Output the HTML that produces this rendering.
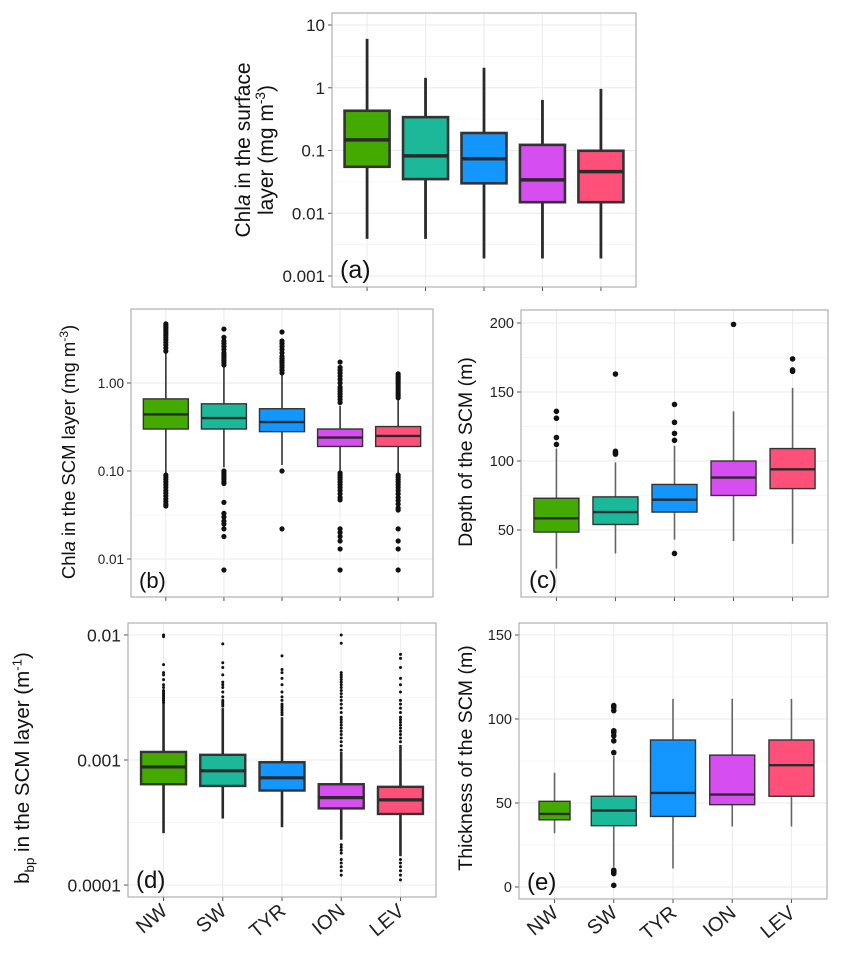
<!DOCTYPE html>
<html><head><meta charset="utf-8"><style>
html,body{margin:0;padding:0;background:#fff}
svg{display:block;font-family:"Liberation Sans",Arial,sans-serif}
</style></head><body>
<svg id="fig" width="841" height="954" viewBox="0 0 841 954" xmlns="http://www.w3.org/2000/svg"></svg>
<script>
const categories = ["NW","SW","TYR","ION","LEV"];
const colors = ["#44AA00","#1BB899","#1496FF","#D64DF0","#FF507A"];

// Panel a: Chla surface
const aLow = [0.0039,0.0039,0.0019,0.0019,0.0019];
const aQ1  = [0.055,0.035,0.030,0.015,0.015];
const aMed = [0.148,0.082,0.074,0.034,0.046];
const aQ3  = [0.43,0.34,0.19,0.123,0.099];
const aHigh= [6.0,1.44,2.08,0.64,0.96];
const aTicks = [10,1,0.1,0.01,0.001];
const aTickLabels = ["10","1","0.1","0.01","0.001"];

// Panel b: Chla SCM
const bLow = [0.095,0.11,0.117,0.10,0.095];
const bQ1  = [0.30,0.30,0.28,0.19,0.19];
const bMed = [0.44,0.40,0.36,0.24,0.25];
const bQ3  = [0.66,0.58,0.51,0.30,0.32];
const bHigh= [2.19,1.52,1.23,0.55,0.64];
const bOutNW = [2.3,2.5,2.7,2.9,3.1,3.3,3.5,3.7,3.9,4.1,4.3,4.5,4.7,0.09,0.085,0.08,0.075,0.07,0.065,0.06,0.056,0.052,0.048,0.045,0.042,0.04];
const bOutSW = [1.6,1.7,1.8,1.9,2.0,2.1,2.2,2.4,2.6,2.8,3.0,3.3,4.1,0.1,0.095,0.09,0.085,0.08,0.075,0.072,0.044,0.033,0.03,0.027,0.025,0.022,0.018,0.0075];
const bOutTYR = [1.3,1.4,1.5,1.6,1.7,1.8,1.9,2.0,2.2,2.4,2.6,2.8,3.0,3.8,0.1,0.022];
const bOutION = [0.6,0.65,0.7,0.75,0.8,0.85,0.9,1.0,1.1,1.2,1.3,1.4,1.5,1.73,0.095,0.09,0.085,0.08,0.075,0.07,0.065,0.06,0.055,0.05,0.047,0.022,0.02,0.018,0.016,0.013,0.0075];
const bOutLEV = [0.68,0.72,0.76,0.8,0.85,0.9,0.95,1.0,1.05,1.1,1.15,1.2,1.27,0.09,0.085,0.08,0.075,0.07,0.065,0.06,0.055,0.05,0.046,0.042,0.038,0.036,0.022,0.016,0.013,0.0075];
const bTicks = [1,0.1,0.01];
const bTickLabels = ["1.00","0.10","0.01"];

// Panel c: depth SCM
const cLow = [22,33,43,42,40];
const cQ1  = [48.5,54,63,75,80];
const cMed = [58.5,63,72,88,94];
const cQ3  = [73,74,83,100,109];
const cHigh= [109,99,111,136,153];
const cOutNW = [112,117,131,136];
const cOutSW = [105,106,107,163];
const cOutTYR = [33,115,120,128,141];
const cOutION = [199];
const cOutLEV = [165,166,174];
const cTicks = [200,150,100,50];
const cTickLabels = ["200","150","100","50"];

// Panel d: bbp SCM
const dLow = [0.00026,0.00034,0.00029,0.00023,0.00017];
const dQ1  = [0.00064,0.00062,0.00057,0.00041,0.00037];
const dMed = [0.00088,0.00082,0.00072,0.00050,0.00048];
const dQ3  = [0.00116,0.00110,0.00096,0.00064,0.00061];
const dHigh= [0.00286,0.0026,0.0022,0.00116,0.00132];
const dOutNW = [0.0029,0.003,0.0031,0.0032,0.0033,0.0034,0.0035,0.0036,0.0038,0.004,0.0044,0.0048,0.005,0.0058,0.0097,0.01];
const dOutSW = [0.0027,0.0028,0.0029,0.003,0.0032,0.0035,0.0038,0.004,0.0042,0.0048,0.0055,0.006,0.0085];
const dOutTYR = [0.0023,0.0024,0.0025,0.0026,0.0027,0.0028,0.003,0.0032,0.0035,0.004,0.0045,0.005,0.0053,0.0068];
const dOutION = [0.0012,0.0013,0.0014,0.0015,0.0016,0.0017,0.0018,0.0019,0.002,0.0021,0.0022,0.0024,0.0026,0.0028,0.003,0.0032,0.0034,0.0036,0.0038,0.004,0.0042,0.0044,0.0046,0.0048,0.005,0.0086,0.01,0.00021,0.0002,0.00019,0.00018,0.00016,0.00015,0.00014,0.00013,0.00012];
const dOutLEV = [0.0014,0.0015,0.0016,0.0017,0.0018,0.0019,0.002,0.0021,0.0022,0.0024,0.0026,0.0028,0.003,0.0035,0.004,0.0045,0.0055,0.0065,0.007,0.00016,0.00015,0.00014,0.00013,0.00012,0.00011];
const dTicks = [0.01,0.001,0.0001];
const dTickLabels = ["0.01","0.001","0.0001"];

// Panel e: thickness SCM
const eLow = [32,12,11,36,36];
const eQ1  = [40,36.5,42,49,54];
const eMed = [43.5,45.5,56,55,72.5];
const eQ3  = [51,54,87.5,78.5,87.5];
const eHigh= [68,78,112,112,112];
const eOutNW = [];
const eOutSW = [80,87,90,92,93,105,107,108,8,9,10,1];
const eOutTYR = [];
const eOutION = [];
const eOutLEV = [];
const eTicks = [150,100,50,0];
const eTickLabels = ["150","100","50","0"];

const NS = "http://www.w3.org/2000/svg";
const fig = document.getElementById('fig');
function mk(tag, attrs, parent){
  const e = document.createElementNS(NS, tag);
  for (const k in attrs) e.setAttribute(k, attrs[k]);
  (parent||fig).appendChild(e);
  return e;
}

function panel(p){
  const g = mk('g', {});
  
  
  const lg = p.log;
  const t = v => lg ? Math.log10(v) : v;
  const y = v => p.yA + (t(v) - t(p.vA)) * (p.yB - p.yA) / (t(p.vB) - t(p.vA));
  const unit = (p.x1 - p.x0) / 5.2;
  const x = i => p.x0 + (0.6 + i) * unit;
  mk('rect', {x:p.x0, y:p.y0, width:p.x1-p.x0, height:p.y1-p.y0, fill:'#fff'}, g);
  for (let k = 0; k < p.ticks.length - 1; k++){
    const a = t(p.ticks[k]), b = t(p.ticks[k+1]);
    const m = (a + b) / 2;
    const yy = p.yA + (m - t(p.vA)) * (p.yB - p.yA) / (t(p.vB) - t(p.vA));
    const ln = mk('line', {x1:p.x0, x2:p.x1, y1:yy, y2:yy, stroke:'#f4f4f4', 'stroke-width':0.8}, g);
    
    
  }
  p.ticks.forEach((v, k) => {
    const yy = y(v);
    const ln = mk('line', {x1:p.x0, x2:p.x1, y1:yy, y2:yy, stroke:'#ebebeb', 'stroke-width':1}, g);
    
    
    mk('line', {x1:p.x0-4, x2:p.x0, y1:yy, y2:yy, stroke:'#555', 'stroke-width':1}, g);
    const tx = mk('text', {x:p.x0-7, y:yy + p.tickFs*0.36, 'text-anchor':'end', 'font-size':p.tickFs, fill:'#222'}, g);
    tx.textContent = p.tickLabels[k];
    
    
  });
  categories.forEach((c, i) => {
    const ln = mk('line', {x1:x(i), x2:x(i), y1:p.y0, y2:p.y1, stroke:'#ebebeb', 'stroke-width':1}, g);
    
    
    mk('line', {x1:x(i), x2:x(i), y1:p.y1, y2:p.y1+4, stroke:'#555', 'stroke-width':1}, g);
    if (p.xlabels){
      const tx = mk('text', {x:0, y:0, 'text-anchor':'end', 'font-size':20, fill:'#222',
        transform:'translate(' + (x(i)+5) + ',' + (p.y1+16) + ') rotate(-40)'}, g);
      tx.textContent = c;
      
      
    }
  });
  mk('rect', {x:p.x0, y:p.y0, width:p.x1-p.x0, height:p.y1-p.y0, fill:'none', stroke:'#a0a0a0', 'stroke-width':1}, g);
  categories.forEach((c, i) => {
    const cx = x(i);
    const hw = (p.widths ? p.widths[i] : 45) / 2;
    const bg = mk('g', {}, g);
    
    
    mk('line', {x1:cx, x2:cx, y1:y(p.high[i]), y2:y(p.q3[i]), stroke:p.wc, 'stroke-width':p.ww}, bg);
    mk('line', {x1:cx, x2:cx, y1:y(p.q1[i]), y2:y(p.low[i]), stroke:p.wc, 'stroke-width':p.ww}, bg);
    mk('rect', {x:cx-hw, y:y(p.q3[i]), width:2*hw, height:y(p.q1[i])-y(p.q3[i]), fill:colors[i], stroke:'#333', 'stroke-width':p.bw}, bg);
    mk('line', {x1:cx-hw, x2:cx+hw, y1:y(p.med[i]), y2:y(p.med[i]), stroke:'#2a2a2a', 'stroke-width':p.mw}, bg);
    (p.out[i] || []).forEach(v => {
      const d = mk('circle', {cx:cx, cy:y(v), r:p.r, fill:'#111'}, bg);
      
      
    });
  });
  const pl = mk('text', {x:p.x0+8, y:p.y1-9, 'font-size':p.letterFs, fill:'#111'}, g);
  pl.textContent = '(' + p.id + ')';
  
  
  return g;
}

panel({id:'a', x0:332, x1:636, y0:13, y1:287, log:true, vA:10, yA:25, vB:0.001, yB:276,
  ticks:aTicks, tickLabels:aTickLabels, tickFs:17, low:aLow, q1:aQ1, med:aMed, q3:aQ3, high:aHigh,
  out:[], wc:'#2a2a2a', ww:2.8, bw:2.6, mw:3.5, r:2, letterFs:25});
panel({id:'b', x0:131, x1:433, y0:309, y1:597, log:true, vA:1, yA:383, vB:0.01, yB:559,
  ticks:bTicks, tickLabels:bTickLabels, tickFs:13.5, low:bLow, q1:bQ1, med:bMed, q3:bQ3, high:bHigh,
  out:[bOutNW,bOutSW,bOutTYR,bOutION,bOutLEV], wc:'#333', ww:1.6, bw:1.4, mw:2.4, r:2.6, letterFs:22});
panel({id:'c', x0:521, x1:828, y0:310, y1:597, log:false, vA:200, yA:323, vB:50, yB:530,
  ticks:cTicks, tickLabels:cTickLabels, tickFs:14.5, low:cLow, q1:cQ1, med:cMed, q3:cQ3, high:cHigh,
  out:[cOutNW,cOutSW,cOutTYR,cOutION,cOutLEV], wc:'#666', ww:1.6, bw:1.4, mw:2.4, r:2.8, letterFs:24});
panel({id:'d', x0:128, x1:436, y0:623, y1:897, log:true, vA:0.01, yA:635, vB:0.0001, yB:885,
  ticks:dTicks, tickLabels:dTickLabels, tickFs:17.5, low:dLow, q1:dQ1, med:dMed, q3:dQ3, high:dHigh,
  out:[dOutNW,dOutSW,dOutTYR,dOutION,dOutLEV], wc:'#2a2a2a', ww:2.6, bw:2.4, mw:3.2, r:1.5, letterFs:24, xlabels:true});
panel({id:'e', x0:519, x1:827, y0:623, y1:899, log:false, vA:150, yA:635, vB:0, yB:887,
  ticks:eTicks, tickLabels:eTickLabels, tickFs:14.5, low:eLow, q1:eQ1, med:eMed, q3:eQ3, high:eHigh,
  out:[eOutNW,eOutSW,eOutTYR,eOutION,eOutLEV], wc:'#666', ww:1.6, bw:1.4, mw:2.4, r:2.8, letterFs:24, xlabels:true,
  widths:[31,45,45,45,45]});

(function(){
  function title(cx, cy, fs, parts, name){
    const t = document.createElementNS(NS, 'text');
    t.setAttribute('transform', 'translate(' + cx + ',' + cy + ') rotate(-90)');
    t.setAttribute('text-anchor', 'middle');
    t.setAttribute('font-size', fs);
    t.setAttribute('fill', '#111');
    
    
    parts.forEach(pt => {
      const s = document.createElementNS(NS, 'tspan');
      s.textContent = pt.t;
      if (pt.i) s.setAttribute('font-style', 'italic');
      if (pt.sup) { s.setAttribute('font-size', fs*0.65); s.setAttribute('dy', -fs*0.38); }
      if (pt.sub) { s.setAttribute('font-size', fs*0.65); s.setAttribute('dy', fs*0.25); }
      if (pt.dy) s.setAttribute('dy', pt.dy);
      t.appendChild(s);
    });
    fig.appendChild(t);
  }
  title(250, 150, 21, [{t:'Chl'},{t:'a',i:1},{t:' in the surface'}], 'y-axis-title-a-line1');
  title(273, 150, 21, [{t:'layer (mg m'},{t:'-3',sup:1},{t:')',dy:8}], 'y-axis-title-a-line2');
  title(75, 452, 18.5, [{t:'Chl'},{t:'a',i:1},{t:' in the SCM layer (mg m'},{t:'-3',sup:1},{t:')',dy:7}], 'y-axis-title-b');
  title(472, 452, 19.5, [{t:'Depth of the SCM (m)'}], 'y-axis-title-c');
  title(29, 768, 20.5, [{t:'b'},{t:'bp',sub:1},{t:' in the SCM layer (m',dy:-5.1},{t:'-1',sup:1},{t:')',dy:7.8}], 'y-axis-title-d');
  title(472, 758, 19.5, [{t:'Thickness of the SCM (m)'}], 'y-axis-title-e');
})();
</script>
</body></html>
